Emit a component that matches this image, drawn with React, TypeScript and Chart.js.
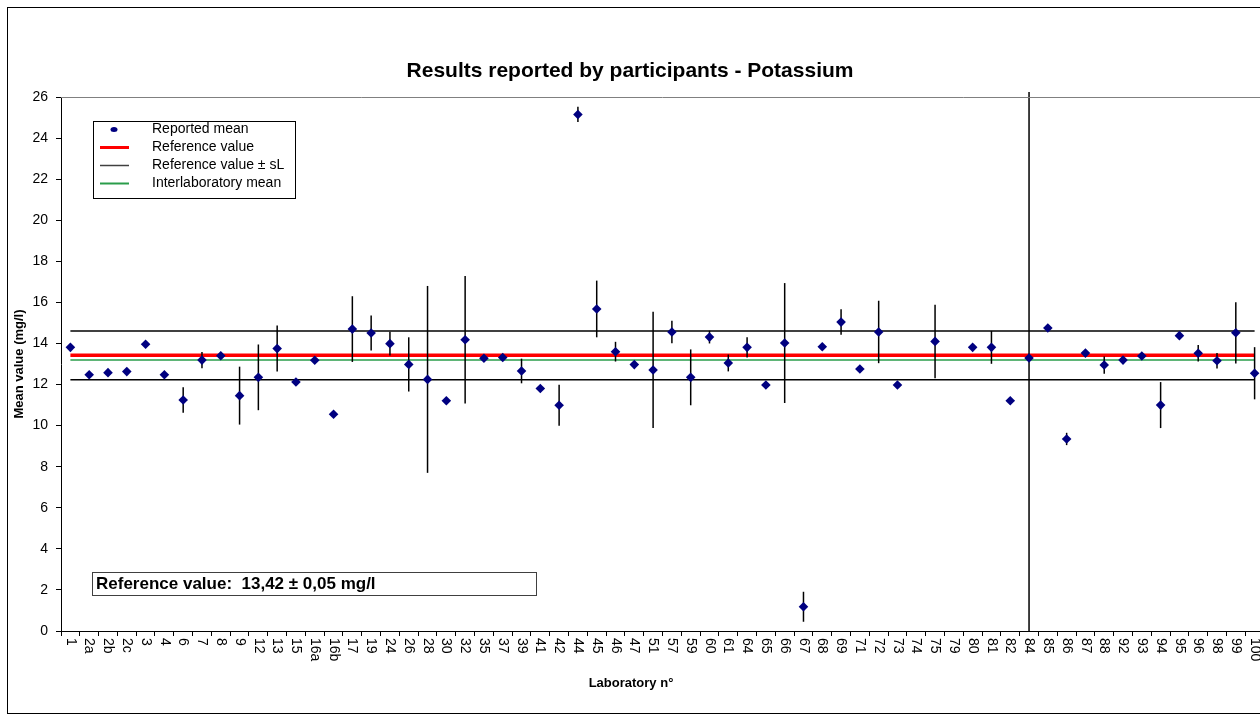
import React, { useEffect, useRef } from 'react';
import { Chart, registerables } from 'chart.js';

Chart.register(...registerables);

const labs: string[] = ['1','2a','2b','2c','3','4','6','7','8','9','12','13','15','16a','16b','17','19','24','26','28','30','32','35','37','39','41','42','44','45','46','47','51','57','59','60','61','64','65','66','67','68','69','71','72','73','74','75','79','80','81','82','84','85','86','87','88','92','93','94','95','96','98','99','100'];

const means: (number | null)[] = [13.81,12.48,12.58,12.63,13.96,12.48,11.25,13.19,13.40,11.46,12.35,13.75,12.12,13.18,10.55,14.70,14.51,13.99,12.98,12.25,11.21,14.18,13.28,13.32,12.66,11.81,10.99,25.15,15.68,13.60,12.97,12.71,14.56,12.35,14.31,13.05,13.81,11.98,14.02,1.18,13.84,15.04,12.76,14.56,11.98,null,14.10,null,13.81,13.81,11.21,13.29,14.75,9.35,13.53,12.95,13.19,13.39,11.00,14.38,13.52,13.16,14.52,12.55];

const errs: number[] = [0,0,0,0,0,0,0.62,0.4,0,1.41,1.6,1.12,0,0,0,1.6,0.85,0.58,1.32,4.55,0,3.1,0,0,0.6,0,1.0,0.37,1.38,0.48,0,2.83,0.55,1.36,0.31,0.41,0.49,0,2.92,0.73,0,0.62,0,1.52,0,0,1.79,0,0,0.8,0,13.4,0,0.3,0,0.42,0,0,1.12,0,0.4,0.38,1.49,1.27];

const referenceValue = 13.42;
const sL = 1.19;
const interlabMean = 13.19;
const yMin = 0;
const yMax = 26;
const yStep = 2;

const titleText = 'Results reported by participants - Potassium';
const yTitle = 'Mean value (mg/l)';
const xTitle = 'Laboratory n°';
const refBoxText = 'Reference value:  13,42 ± 0,05 mg/l';
const legendItems = ['Reported mean', 'Reference value', 'Reference value ± sL', 'Interlaboratory mean'];

const FONT = 'Arial, "Liberation Sans", sans-serif';
const NAVY = '#000080';
const RED = '#ff0000';
const GREEN = '#2a9d4a';

const decorPlugin = {
  id: 'decor',
  beforeDatasetDraw(chart: any, args: any) {
    if (args.index !== 0) return;
    const { ctx, chartArea } = chart;
    const xs = chart.scales.x;
    const ys = chart.scales.y;
    ctx.save();
    ctx.strokeStyle = '#000';
    ctx.lineWidth = 1.5;
    means.forEach((m, i) => {
      if (m == null || !errs[i]) return;
      const x = xs.getPixelForValue(i);
      let yTop = ys.getPixelForValue(m + errs[i]);
      let yBot = ys.getPixelForValue(Math.max(yMin, m - errs[i]));
      yTop = Math.max(yTop, chartArea.top - 5);
      ctx.beginPath();
      ctx.moveTo(x, yTop);
      ctx.lineTo(x, yBot);
      ctx.stroke();
    });
    ctx.restore();
  },
  afterDraw(chart: any) {
    const { ctx, chartArea } = chart;
    const xs = chart.scales.x;
    ctx.save();
    // outer frame
    ctx.strokeStyle = '#000';
    ctx.lineWidth = 1;
    ctx.strokeRect(7.5, 7.5, 1300, 706);
    // plot top border
    ctx.strokeStyle = '#808080';
    ctx.beginPath();
    ctx.moveTo(chartArea.left, chartArea.top + 0.5);
    ctx.lineTo(chartArea.right, chartArea.top + 0.5);
    ctx.stroke();

    // title
    ctx.fillStyle = '#000';
    ctx.font = `bold 21px ${FONT}`;
    ctx.textAlign = 'center';
    ctx.textBaseline = 'middle';
    ctx.fillText(titleText, 630, 71);

    // x axis labels rotated clockwise
    ctx.font = `14px ${FONT}`;
    labs.forEach((lab, i) => {
      const x = xs.getPixelForValue(i);
      ctx.save();
      ctx.translate(x, 638);
      ctx.rotate(Math.PI / 2);
      ctx.textAlign = 'left';
      ctx.textBaseline = 'middle';
      ctx.fillText(lab, 0, 0);
      ctx.restore();
    });

    // axis titles
    ctx.font = `bold 13px ${FONT}`;
    ctx.textAlign = 'center';
    ctx.textBaseline = 'middle';
    ctx.fillText(xTitle, 631, 683);
    ctx.save();
    ctx.translate(19, (chartArea.top + chartArea.bottom) / 2);
    ctx.rotate(-Math.PI / 2);
    ctx.fillText(yTitle, 0, 0);
    ctx.restore();

    // legend box
    ctx.fillStyle = '#fff';
    ctx.fillRect(93, 121, 202, 77);
    ctx.strokeStyle = '#000';
    ctx.lineWidth = 1;
    ctx.strokeRect(93.5, 121.5, 202, 77);
    const rowY = [129.5, 147.5, 165.5, 183.5];
    // marker
    ctx.fillStyle = NAVY;
    ctx.beginPath();
    ctx.ellipse(114, rowY[0], 3.5, 2.5, 0, 0, Math.PI * 2);
    ctx.fill();
    const lineColors = [RED, '#404040', GREEN];
    const lineWidths = [3, 1.5, 2];
    for (let k = 0; k < 3; k++) {
      ctx.strokeStyle = lineColors[k];
      ctx.lineWidth = lineWidths[k];
      ctx.beginPath();
      ctx.moveTo(100, rowY[k + 1]);
      ctx.lineTo(129, rowY[k + 1]);
      ctx.stroke();
    }
    ctx.fillStyle = '#000';
    ctx.font = `14px ${FONT}`;
    ctx.textAlign = 'left';
    ctx.textBaseline = 'middle';
    legendItems.forEach((t, k) => ctx.fillText(t, 152, rowY[k]));

    // reference value box
    ctx.fillStyle = '#fff';
    ctx.fillRect(92, 572, 444, 23);
    ctx.strokeStyle = '#404040';
    ctx.lineWidth = 1;
    ctx.strokeRect(92.5, 572.5, 444, 23);
    ctx.fillStyle = '#000';
    ctx.font = `bold 17px ${FONT}`;
    ctx.textAlign = 'left';
    ctx.textBaseline = 'middle';
    ctx.fillText(refBoxText, 96, 584.5);
    ctx.restore();
  },
};

export default function App() {
  const ref = useRef<HTMLCanvasElement | null>(null);
  useEffect(() => {
    if (!ref.current) return;
    const n = labs.length;
    const chart = new Chart(ref.current, {
      type: 'line',
      data: {
        labels: labs,
        datasets: [
          {
            label: legendItems[0],
            data: means,
            showLine: false,
            pointStyle: 'rectRot',
            pointRadius: 4.8,
            pointBackgroundColor: NAVY,
            pointBorderColor: NAVY,
            pointBorderWidth: 0,
            order: 0,
          },
          {
            label: legendItems[1],
            data: new Array(n).fill(referenceValue),
            borderColor: RED,
            borderWidth: 3.5,
            pointRadius: 0,
            order: 2,
          },
          {
            label: legendItems[2],
            data: new Array(n).fill(referenceValue + sL),
            borderColor: '#000',
            borderWidth: 1.5,
            pointRadius: 0,
            order: 3,
          },
          {
            label: legendItems[2],
            data: new Array(n).fill(referenceValue - sL),
            borderColor: '#000',
            borderWidth: 1.5,
            pointRadius: 0,
            order: 3,
          },
          {
            label: legendItems[3],
            data: new Array(n).fill(interlabMean),
            borderColor: GREEN,
            borderWidth: 1.5,
            pointRadius: 0,
            order: 1,
          },
        ],
      },
      options: {
        animation: false,
        responsive: false,
        maintainAspectRatio: false,
        events: [],
        layout: { padding: { top: 97, left: 0, right: 6, bottom: 0 } },
        plugins: { legend: { display: false }, title: { display: false }, tooltip: { enabled: false } },
        scales: {
          x: {
            type: 'category',
            offset: true,
            grid: { offset: true, drawOnChartArea: false, drawTicks: true, tickLength: 5, color: '#000', tickColor: '#000' },
            border: { display: true, color: '#000', width: 1 },
            ticks: { display: false, autoSkip: false },
            afterFit: (s: any) => { s.height = 91; },
          },
          y: {
            min: yMin,
            max: yMax,
            grid: { drawOnChartArea: false, drawTicks: true, tickLength: 5, color: '#000', tickColor: '#000' },
            border: { display: true, color: '#000', width: 1 },
            ticks: { stepSize: yStep, color: '#000', padding: 8, font: { family: FONT, size: 14 } },
            afterFit: (s: any) => { s.width = 61; },
          },
        },
      },
      plugins: [decorPlugin],
    });
    return () => chart.destroy();
  }, []);
  return (
    <div style={{ position: 'fixed', left: 0, top: 0, width: 1260, height: 722, overflow: 'hidden', background: '#fff' }}>
      <canvas ref={ref} width={1270} height={722} style={{ display: 'block', width: 1270, height: 722 }} />
    </div>
  );
}
